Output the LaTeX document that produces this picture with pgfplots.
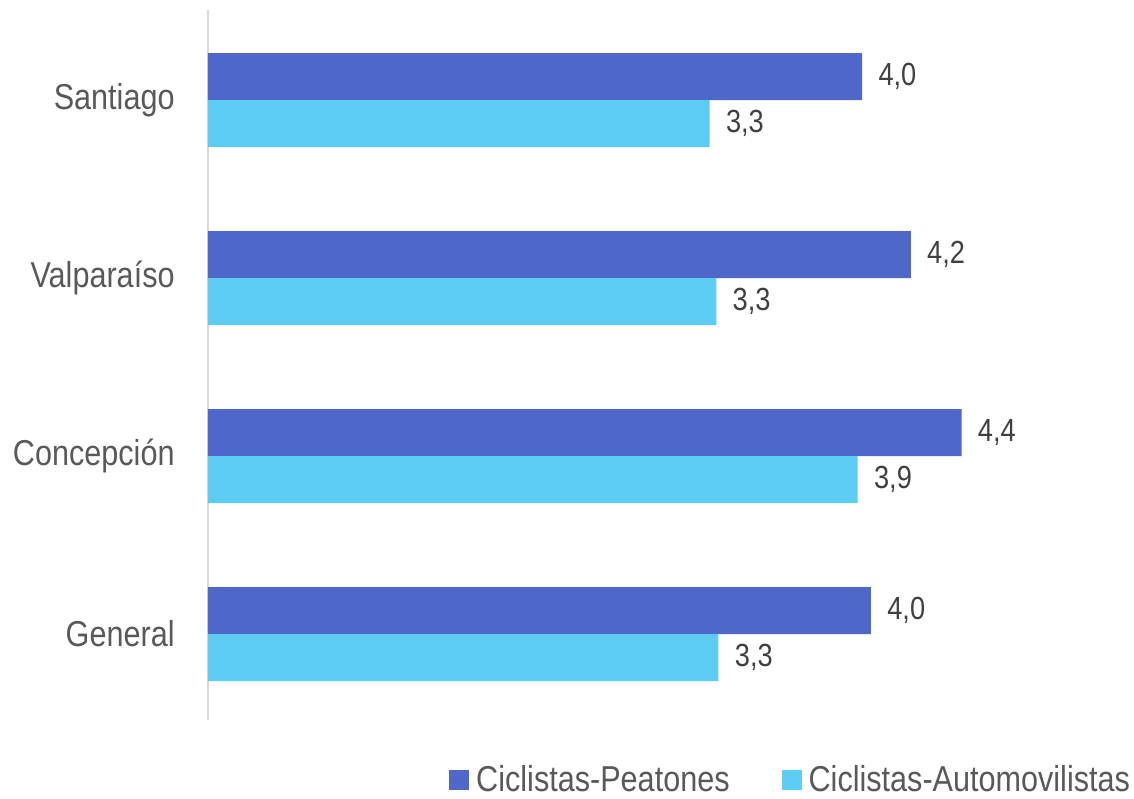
\documentclass[border=0pt]{standalone}
\usepackage{pgfplots}
\pgfplotsset{compat=1.18}
\usetikzlibrary{calc}
\usepackage{fontspec}
\setmainfont{Liberation Sans}[FakeStretch=0.85]
\definecolor{cpea}{HTML}{4F67C9}
\definecolor{caut}{HTML}{5DCCF2}
\definecolor{lbl}{HTML}{595959}
\definecolor{num}{HTML}{404040}
\definecolor{axl}{HTML}{D9D9D9}
\begin{document}
\begin{tikzpicture}
\begin{axis}[
  scale only axis,
  width=442pt, height=355pt,
  xbar,
  xmin=1, xmax=5,
  ymin=-0.483, ymax=3.506,
  bar width=0.264,
  axis x line=none,
  axis y line*=left,
  y axis line style={axl, line width=1pt},
  ytick={0,1,2,3},
  yticklabels={General,Concepción,Valparaíso,Santiago},
  major tick length=0pt,
  yticklabel style={font=\fontsize{18}{20}\selectfont, text=lbl, inner sep=0pt, xshift=-16.5pt},
  nodes near coords,
  /pgf/number format/.cd, fixed, fixed zerofill, precision=1, use comma, assume math mode=true,
  /pgfplots/.cd,
  every node near coord/.append style={font=\fontsize{16}{18}\selectfont, text=num, anchor=west, inner sep=0pt, xshift=8pt},
  legend style={at={(rel axis cs:1.048,-0.0845)}, anchor=east, draw=none, fill=none,
    font=\fontsize{18}{20}\selectfont, text=lbl, inner sep=0pt,
    /tikz/every even column/.append style={column sep=24pt}},
  legend columns=2,
  legend image code/.code={\fill[#1] (0pt,-5pt) rectangle (10pt,5pt); \path (11.5pt,0pt);},
  clip=false,
]
\addplot[fill=cpea, draw=none, bar shift=0.132] coordinates {(4.00,0) (4.41,1) (4.18,2) (3.96,3)};
\addplot[fill=caut, draw=none, bar shift=-0.132] coordinates {(3.31,0) (3.94,1) (3.30,2) (3.27,3)};
\legend{Ciclistas-Peatones,Ciclistas-Automovilistas}
\coordinate (LL) at (rel axis cs:0,0);
\coordinate (UR) at (rel axis cs:1,1);
\end{axis}
\useasboundingbox ($(LL)+(-104pt,-38pt)$) rectangle ($(UR)+(21pt,5pt)$);
\end{tikzpicture}
\end{document}
